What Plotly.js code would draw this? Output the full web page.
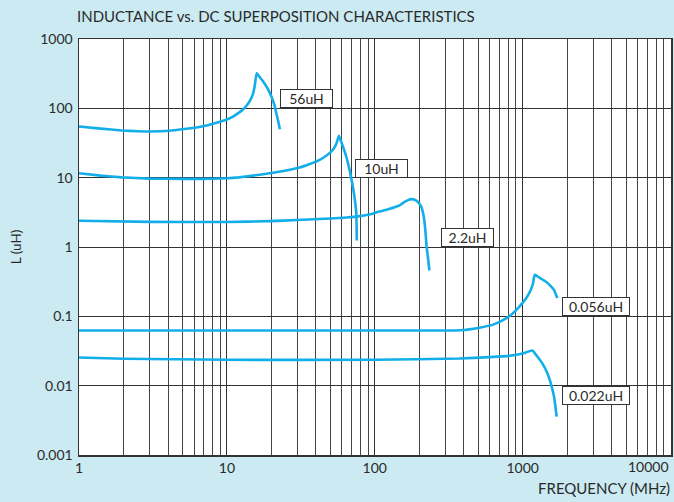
<!DOCTYPE html>
<html>
<head>
<meta charset="utf-8">
<script src="https://cdn.plot.ly/plotly-3.0.1.min.js"></script>
<style>html,body{margin:0;padding:0;background:#cbeaf2;}#chart{width:674px;height:502px;}</style>
</head>
<body>
<div id="chart"></div>
<script>
// Frequency (MHz) and inductance (uH)
const f56 = [1, 1.4, 1.95, 2.5, 3.0, 4.1, 5.15, 6.2, 7.3, 8.5, 9.9, 11.0, 12.0, 12.8, 13.6, 14.3, 15.0, 15.45, 15.9, 16.6, 17.6, 18.8, 20.0, 21.0, 21.6, 22.3, 22.8];
const L56 = [54.8, 51, 48, 46.8, 46.4, 47.5, 50.3, 53, 56.6, 62, 68.5, 76, 86, 95.4, 110, 128, 160, 215, 320, 285, 244, 195, 148, 110, 85, 63, 50];

const f10 = [1, 1.4, 1.95, 3.0, 5.15, 8, 10, 12, 15, 19.5, 24.6, 31.1, 36.3, 42.4, 47, 52.1, 55, 57.2, 60.3, 64.1, 67.5, 71.1, 73.3, 75, 75.6];
const L10 = [11.6, 10.7, 10.1, 9.7, 9.6, 9.65, 9.8, 10.1, 10.7, 11.6, 12.6, 14.0, 15.7, 18.1, 20.7, 25.3, 30.8, 40, 29.8, 20.2, 13, 7.46, 4.8, 3.08, 1.24];

const f22 = [1, 3, 10, 19.5, 30, 50, 65, 75, 90, 102, 120, 139, 150, 160, 168, 176, 186, 195, 206, 212, 216, 220, 224, 229, 234];
const L22 = [2.39, 2.3, 2.29, 2.36, 2.45, 2.58, 2.67, 2.74, 2.92, 3.15, 3.45, 3.8, 4.1, 4.5, 4.75, 4.91, 4.8, 4.5, 3.84, 3.1, 2.47, 1.7, 1.02, 0.7, 0.458];

const f0056 = [1, 100, 300, 354, 400, 435, 520, 625, 720, 809, 900, 995, 1070, 1135, 1175, 1207, 1300, 1432, 1530, 1629, 1714];
const L0056 = [0.0624, 0.0624, 0.0624, 0.0626, 0.0634, 0.0648, 0.069, 0.0753, 0.086, 0.0993, 0.122, 0.155, 0.19, 0.241, 0.3, 0.397, 0.36, 0.318, 0.28, 0.241, 0.183];

const f0022 = [1, 2, 10, 100, 373, 600, 809, 1000, 1162, 1256, 1355, 1469, 1549, 1629, 1698];
const L0022 = [0.0255, 0.0245, 0.0236, 0.0236, 0.0246, 0.0258, 0.0269, 0.029, 0.0321, 0.0263, 0.0211, 0.0151, 0.0109, 0.00697, 0.00358];

const seriesLabels = ["56uH", "10uH", "2.2uH", "0.056uH", "0.022uH"];

const xTickVals = [1, 10, 100, 1000, 10000];
const xTickText = ["1", "10", "100", "1000", "10000"];
const yTickVals = [0.001, 0.01, 0.1, 1, 10, 100, 1000];
const yTickText = ["0.001", "0.01", "0.1", "1", "10", "100", "1000"];

const lineColor = '#12aee9';
const txt = '#2a2a2a';
const fontFam = 'Lato, "Open Sans", sans-serif';

const sets = [[f56, L56], [f10, L10], [f22, L22], [f0056, L0056], [f0022, L0022]];
const data = sets.map((s, i) => ({
  x: s[0], y: s[1], type: 'scatter', mode: 'lines', name: seriesLabels[i],
  line: {color: lineColor, width: 2.6, shape: 'spline', smoothing: 0.4}, hoverinfo: 'skip'
}));

const annPos = [
  {x: 1.362, y: 2, ya: 'bottom', w: 49},
  {x: 1.863, y: 1, ya: 'bottom', w: 49},
  {x: 2.448, y: 0, ya: 'bottom', w: 49},
  {x: 3.264, y: -1, ya: 'bottom', w: 64},
  {x: 3.264, y: -2, ya: 'top', w: 64}
];
const annotations = annPos.map((p, i) => ({
  xref: 'x', yref: 'y', x: p.x, y: p.y, xanchor: 'left', yanchor: p.ya,
  text: seriesLabels[i], showarrow: false, bgcolor: '#ffffff', bordercolor: '#333333',
  borderwidth: 1, borderpad: 1, width: p.w, height: 15, align: 'center',
  font: {family: fontFam, size: 14, color: txt}
}));
annotations.push({
  xref: 'paper', yref: 'paper', x: 1.002, y: -33/416, xanchor: 'right', yanchor: 'middle',
  text: 'FREQUENCY (MHz)', showarrow: false, font: {family: fontFam, size: 15, color: txt}
});
// last x tick label drawn right-aligned to the plot edge, as in the reference
annotations.push({
  xref: 'x', yref: 'paper', x: Math.log10(xTickVals[4]), y: -11/416, xanchor: 'right', yanchor: 'middle',
  text: xTickText[4], showarrow: false, font: {family: fontFam, size: 14, color: txt}
});

const layout = {
  width: 674, height: 502,
  paper_bgcolor: '#cbeaf2', plot_bgcolor: '#ffffff',
  margin: {l: 79, r: 3, t: 39, b: 47},
  showlegend: false,
  font: {family: fontFam, size: 14, color: txt},
  title: {text: 'INDUCTANCE vs. DC SUPERPOSITION CHARACTERISTICS', x: 77/674, xanchor: 'left', xref: 'container',
          y: 1 - 17/502, yref: 'container', yanchor: 'middle', font: {family: fontFam, size: 15, color: txt}},
  xaxis: {
    type: 'log', range: [0, 4.003], tickvals: xTickVals.slice(0, 4), ticktext: xTickText.slice(0, 4),
    showgrid: true, gridcolor: '#333333', gridwidth: 1,
    minor: {dtick: 'D1', showgrid: true, gridcolor: '#444444', gridwidth: 1, ticks: ''},
    showline: true, linecolor: '#333333', linewidth: 1.5, mirror: true,
    ticks: '', zeroline: false,
    tickfont: {family: fontFam, size: 14, color: txt}
  },
  yaxis: {
    type: 'log', range: [-3, 3], tickvals: yTickVals, ticktext: yTickText,
    showgrid: true, gridcolor: '#333333', gridwidth: 1,
    showline: true, linecolor: '#333333', linewidth: 1.5, mirror: true,
    ticks: '', zeroline: false, ticklabelstandoff: 2,
    tickfont: {family: fontFam, size: 14, color: txt},
    title: {text: 'L (uH)', standoff: 12, font: {family: fontFam, size: 13.5, color: txt}}
  },
  annotations: annotations
};

Plotly.newPlot('chart', data, layout, {staticPlot: true, displayModeBar: false});
</script>
</body>
</html>
